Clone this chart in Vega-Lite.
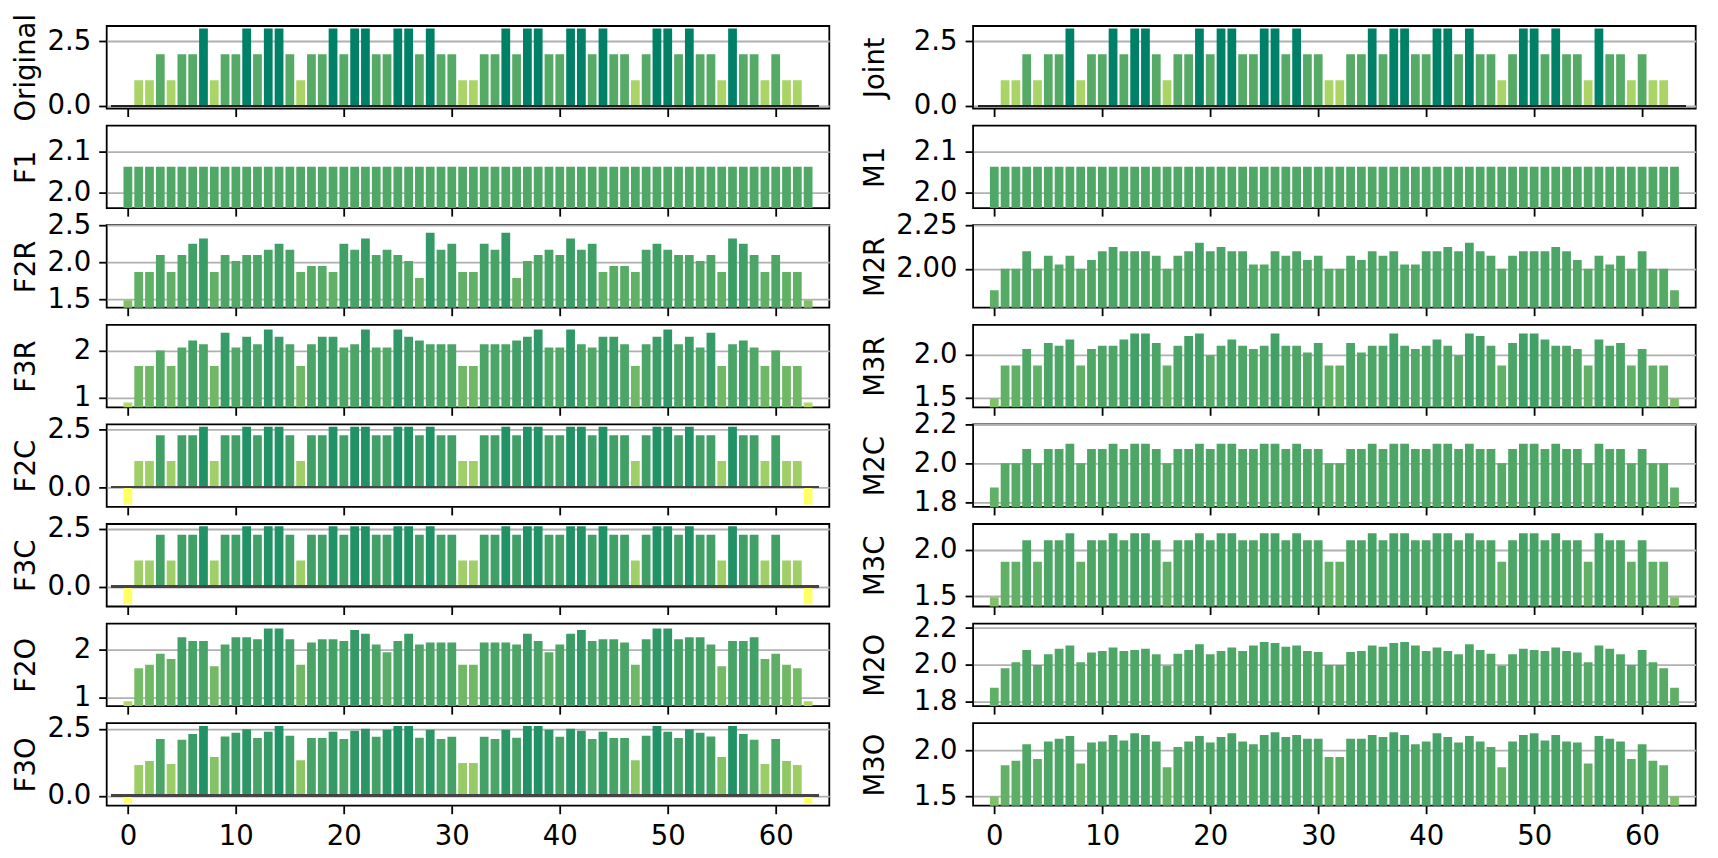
{
"$schema": "https://vega.github.io/schema/vega-lite/v6.json",
"autosize": {"type": "none"},
"padding": {"left": 106.7, "top": 26, "right": 1611.3, "bottom": 832},
"background": "white",
"data": {"values": [
{"i":0,"Original":0,"Joint":0,"F1":2.063,"M1":2.063,"F2R":1.49,"M2R":1.877,"F3R":0.9,"M3R":1.49,"F2C":-0.76,"M2C":1.876,"F3C":-0.76,"M3C":1.49,"F2O":0.93,"M2O":1.877,"F3O":-0.27,"M3O":1.5},
{"i":1,"Original":1,"Joint":1,"F1":2.063,"M1":2.063,"F2R":1.87,"M2R":2.0,"F3R":1.67,"M3R":1.87,"F2C":1.13,"M2C":2.0,"F3C":1.13,"M3C":1.87,"F2O":1.61,"M2O":1.982,"F3O":1.15,"M3O":1.84},
{"i":2,"Original":1,"Joint":1,"F1":2.063,"M1":2.063,"F2R":1.87,"M2R":2.0,"F3R":1.67,"M3R":1.87,"F2C":1.13,"M2C":2.0,"F3C":1.13,"M3C":1.87,"F2O":1.68,"M2O":2.014,"F3O":1.3,"M3O":1.89},
{"i":3,"Original":2,"Joint":2,"F1":2.063,"M1":2.063,"F2R":2.1,"M2R":2.1,"F3R":2.0,"M3R":2.06,"F2C":2.24,"M2C":2.074,"F3C":2.24,"M3C":2.1,"F2O":1.91,"M2O":2.081,"F3O":2.12,"M3O":2.07},
{"i":4,"Original":1,"Joint":1,"F1":2.063,"M1":2.063,"F2R":1.87,"M2R":2.0,"F3R":1.67,"M3R":1.87,"F2C":1.13,"M2C":2.0,"F3C":1.13,"M3C":1.87,"F2O":1.8,"M2O":2.0,"F3O":1.19,"M3O":1.91},
{"i":5,"Original":2,"Joint":2,"F1":2.063,"M1":2.063,"F2R":2.1,"M2R":2.075,"F3R":2.06,"M3R":2.13,"F2C":2.24,"M2C":2.074,"F3C":2.24,"M3C":2.1,"F2O":2.25,"M2O":2.058,"F3O":2.09,"M3O":2.1},
{"i":6,"Original":2,"Joint":2,"F1":2.063,"M1":2.063,"F2R":2.25,"M2R":2.025,"F3R":2.21,"M3R":2.1,"F2C":2.24,"M2C":2.074,"F3C":2.24,"M3C":2.1,"F2O":2.17,"M2O":2.088,"F3O":2.31,"M3O":2.13},
{"i":7,"Original":3,"Joint":3,"F1":2.063,"M1":2.063,"F2R":2.32,"M2R":2.075,"F3R":2.13,"M3R":2.17,"F2C":2.61,"M2C":2.1,"F3C":2.61,"M3C":2.175,"F2O":2.17,"M2O":2.106,"F3O":2.61,"M3O":2.16},
{"i":8,"Original":1,"Joint":1,"F1":2.063,"M1":2.063,"F2R":1.87,"M2R":2.0,"F3R":1.67,"M3R":1.87,"F2C":1.13,"M2C":2.0,"F3C":1.13,"M3C":1.87,"F2O":1.65,"M2O":2.014,"F3O":1.45,"M3O":1.86},
{"i":9,"Original":2,"Joint":2,"F1":2.063,"M1":2.063,"F2R":2.1,"M2R":2.05,"F3R":2.37,"M3R":2.06,"F2C":2.24,"M2C":2.074,"F3C":2.24,"M3C":2.1,"F2O":2.1,"M2O":2.068,"F3O":2.21,"M3O":2.09},
{"i":10,"Original":2,"Joint":2,"F1":2.063,"M1":2.063,"F2R":2.02,"M2R":2.1,"F3R":2.06,"M3R":2.1,"F2C":2.24,"M2C":2.074,"F3C":2.24,"M3C":2.1,"F2O":2.25,"M2O":2.076,"F3O":2.35,"M3O":2.1},
{"i":11,"Original":3,"Joint":3,"F1":2.063,"M1":2.063,"F2R":2.1,"M2R":2.125,"F3R":2.29,"M3R":2.1,"F2C":2.61,"M2C":2.1,"F3C":2.61,"M3C":2.175,"F2O":2.25,"M2O":2.094,"F3O":2.48,"M3O":2.17},
{"i":12,"Original":2,"Joint":2,"F1":2.063,"M1":2.063,"F2R":2.1,"M2R":2.1,"F3R":2.13,"M3R":2.17,"F2C":2.24,"M2C":2.074,"F3C":2.24,"M3C":2.1,"F2O":2.21,"M2O":2.076,"F3O":2.16,"M3O":2.11},
{"i":13,"Original":3,"Joint":3,"F1":2.063,"M1":2.063,"F2R":2.17,"M2R":2.1,"F3R":2.44,"M3R":2.24,"F2C":2.61,"M2C":2.1,"F3C":2.61,"M3C":2.175,"F2O":2.43,"M2O":2.081,"F3O":2.39,"M3O":2.19},
{"i":14,"Original":3,"Joint":3,"F1":2.063,"M1":2.063,"F2R":2.25,"M2R":2.1,"F3R":2.29,"M3R":2.24,"F2C":2.61,"M2C":2.1,"F3C":2.61,"M3C":2.175,"F2O":2.43,"M2O":2.088,"F3O":2.61,"M3O":2.17},
{"i":15,"Original":2,"Joint":2,"F1":2.063,"M1":2.063,"F2R":2.17,"M2R":2.075,"F3R":2.13,"M3R":2.13,"F2C":2.24,"M2C":2.074,"F3C":2.24,"M3C":2.1,"F2O":2.21,"M2O":2.058,"F3O":2.24,"M3O":2.1},
{"i":16,"Original":1,"Joint":1,"F1":2.063,"M1":2.063,"F2R":1.87,"M2R":2.0,"F3R":1.67,"M3R":1.87,"F2C":1.13,"M2C":2.0,"F3C":1.13,"M3C":1.87,"F2O":1.68,"M2O":1.995,"F3O":1.33,"M3O":1.82},
{"i":17,"Original":2,"Joint":2,"F1":2.063,"M1":2.063,"F2R":1.95,"M2R":2.075,"F3R":2.13,"M3R":2.1,"F2C":2.24,"M2C":2.074,"F3C":2.24,"M3C":2.1,"F2O":2.14,"M2O":2.061,"F3O":2.16,"M3O":2.04},
{"i":18,"Original":2,"Joint":2,"F1":2.063,"M1":2.063,"F2R":1.95,"M2R":2.1,"F3R":2.29,"M3R":2.21,"F2C":2.24,"M2C":2.074,"F3C":2.24,"M3C":2.1,"F2O":2.21,"M2O":2.081,"F3O":2.16,"M3O":2.1},
{"i":19,"Original":3,"Joint":3,"F1":2.063,"M1":2.063,"F2R":1.87,"M2R":2.15,"F3R":2.29,"M3R":2.24,"F2C":2.61,"M2C":2.1,"F3C":2.61,"M3C":2.175,"F2O":2.21,"M2O":2.112,"F3O":2.39,"M3O":2.16},
{"i":20,"Original":2,"Joint":2,"F1":2.063,"M1":2.063,"F2R":2.25,"M2R":2.1,"F3R":2.06,"M3R":1.99,"F2C":2.24,"M2C":2.074,"F3C":2.24,"M3C":2.1,"F2O":2.17,"M2O":2.058,"F3O":2.12,"M3O":2.09},
{"i":21,"Original":3,"Joint":3,"F1":2.063,"M1":2.063,"F2R":2.17,"M2R":2.125,"F3R":2.13,"M3R":2.1,"F2C":2.61,"M2C":2.1,"F3C":2.61,"M3C":2.175,"F2O":2.4,"M2O":2.076,"F3O":2.43,"M3O":2.15},
{"i":22,"Original":3,"Joint":3,"F1":2.063,"M1":2.063,"F2R":2.32,"M2R":2.1,"F3R":2.44,"M3R":2.17,"F2C":2.61,"M2C":2.1,"F3C":2.61,"M3C":2.175,"F2O":2.32,"M2O":2.094,"F3O":2.5,"M3O":2.19},
{"i":23,"Original":2,"Joint":2,"F1":2.063,"M1":2.063,"F2R":2.1,"M2R":2.1,"F3R":2.06,"M3R":2.1,"F2C":2.24,"M2C":2.074,"F3C":2.24,"M3C":2.1,"F2O":2.1,"M2O":2.076,"F3O":2.2,"M3O":2.1},
{"i":24,"Original":2,"Joint":2,"F1":2.063,"M1":2.063,"F2R":2.17,"M2R":2.025,"F3R":2.06,"M3R":2.06,"F2C":2.24,"M2C":2.074,"F3C":2.24,"M3C":2.1,"F2O":1.94,"M2O":2.106,"F3O":2.47,"M3O":2.07},
{"i":25,"Original":3,"Joint":3,"F1":2.063,"M1":2.063,"F2R":2.1,"M2R":2.025,"F3R":2.44,"M3R":2.1,"F2C":2.61,"M2C":2.1,"F3C":2.61,"M3C":2.175,"F2O":2.17,"M2O":2.124,"F3O":2.61,"M3O":2.17},
{"i":26,"Original":3,"Joint":3,"F1":2.063,"M1":2.063,"F2R":2.02,"M2R":2.1,"F3R":2.29,"M3R":2.24,"F2C":2.61,"M2C":2.1,"F3C":2.61,"M3C":2.175,"F2O":2.32,"M2O":2.119,"F3O":2.61,"M3O":2.2},
{"i":27,"Original":2,"Joint":2,"F1":2.063,"M1":2.063,"F2R":1.79,"M2R":2.075,"F3R":2.21,"M3R":2.1,"F2C":2.24,"M2C":2.074,"F3C":2.24,"M3C":2.1,"F2O":2.1,"M2O":2.099,"F3O":2.17,"M3O":2.15},
{"i":28,"Original":3,"Joint":3,"F1":2.063,"M1":2.063,"F2R":2.4,"M2R":2.1,"F3R":2.13,"M3R":2.1,"F2C":2.61,"M2C":2.1,"F3C":2.61,"M3C":2.175,"F2O":2.14,"M2O":2.106,"F3O":2.47,"M3O":2.17},
{"i":29,"Original":2,"Joint":2,"F1":2.063,"M1":2.063,"F2R":2.17,"M2R":2.05,"F3R":2.13,"M3R":2.02,"F2C":2.24,"M2C":2.074,"F3C":2.24,"M3C":2.1,"F2O":2.14,"M2O":2.076,"F3O":2.12,"M3O":2.13},
{"i":30,"Original":2,"Joint":2,"F1":2.063,"M1":2.063,"F2R":2.25,"M2R":2.075,"F3R":2.13,"M3R":2.13,"F2C":2.24,"M2C":2.074,"F3C":2.24,"M3C":2.1,"F2O":2.14,"M2O":2.07,"F3O":2.2,"M3O":2.13},
{"i":31,"Original":1,"Joint":1,"F1":2.063,"M1":2.063,"F2R":1.87,"M2R":2.0,"F3R":1.67,"M3R":1.87,"F2C":1.13,"M2C":2.0,"F3C":1.13,"M3C":1.87,"F2O":1.68,"M2O":2.0,"F3O":1.22,"M3O":1.93},
{"i":32,"Original":1,"Joint":1,"F1":2.063,"M1":2.063,"F2R":1.87,"M2R":2.0,"F3R":1.67,"M3R":1.87,"F2C":1.13,"M2C":2.0,"F3C":1.13,"M3C":1.87,"F2O":1.68,"M2O":2.0,"F3O":1.22,"M3O":1.93},
{"i":33,"Original":2,"Joint":2,"F1":2.063,"M1":2.063,"F2R":2.25,"M2R":2.075,"F3R":2.13,"M3R":2.13,"F2C":2.24,"M2C":2.074,"F3C":2.24,"M3C":2.1,"F2O":2.14,"M2O":2.07,"F3O":2.2,"M3O":2.13},
{"i":34,"Original":2,"Joint":2,"F1":2.063,"M1":2.063,"F2R":2.17,"M2R":2.05,"F3R":2.13,"M3R":2.02,"F2C":2.24,"M2C":2.074,"F3C":2.24,"M3C":2.1,"F2O":2.14,"M2O":2.076,"F3O":2.12,"M3O":2.13},
{"i":35,"Original":3,"Joint":3,"F1":2.063,"M1":2.063,"F2R":2.4,"M2R":2.1,"F3R":2.13,"M3R":2.1,"F2C":2.61,"M2C":2.1,"F3C":2.61,"M3C":2.175,"F2O":2.14,"M2O":2.106,"F3O":2.47,"M3O":2.17},
{"i":36,"Original":2,"Joint":2,"F1":2.063,"M1":2.063,"F2R":1.79,"M2R":2.075,"F3R":2.21,"M3R":2.1,"F2C":2.24,"M2C":2.074,"F3C":2.24,"M3C":2.1,"F2O":2.1,"M2O":2.099,"F3O":2.17,"M3O":2.15},
{"i":37,"Original":3,"Joint":3,"F1":2.063,"M1":2.063,"F2R":2.02,"M2R":2.1,"F3R":2.29,"M3R":2.24,"F2C":2.61,"M2C":2.1,"F3C":2.61,"M3C":2.175,"F2O":2.32,"M2O":2.119,"F3O":2.61,"M3O":2.2},
{"i":38,"Original":3,"Joint":3,"F1":2.063,"M1":2.063,"F2R":2.1,"M2R":2.025,"F3R":2.44,"M3R":2.1,"F2C":2.61,"M2C":2.1,"F3C":2.61,"M3C":2.175,"F2O":2.17,"M2O":2.124,"F3O":2.61,"M3O":2.17},
{"i":39,"Original":2,"Joint":2,"F1":2.063,"M1":2.063,"F2R":2.17,"M2R":2.025,"F3R":2.06,"M3R":2.06,"F2C":2.24,"M2C":2.074,"F3C":2.24,"M3C":2.1,"F2O":1.94,"M2O":2.106,"F3O":2.47,"M3O":2.07},
{"i":40,"Original":2,"Joint":2,"F1":2.063,"M1":2.063,"F2R":2.1,"M2R":2.1,"F3R":2.06,"M3R":2.1,"F2C":2.24,"M2C":2.074,"F3C":2.24,"M3C":2.1,"F2O":2.1,"M2O":2.076,"F3O":2.2,"M3O":2.1},
{"i":41,"Original":3,"Joint":3,"F1":2.063,"M1":2.063,"F2R":2.32,"M2R":2.1,"F3R":2.44,"M3R":2.17,"F2C":2.61,"M2C":2.1,"F3C":2.61,"M3C":2.175,"F2O":2.32,"M2O":2.094,"F3O":2.5,"M3O":2.19},
{"i":42,"Original":3,"Joint":3,"F1":2.063,"M1":2.063,"F2R":2.17,"M2R":2.125,"F3R":2.13,"M3R":2.1,"F2C":2.61,"M2C":2.1,"F3C":2.61,"M3C":2.175,"F2O":2.4,"M2O":2.076,"F3O":2.43,"M3O":2.15},
{"i":43,"Original":2,"Joint":2,"F1":2.063,"M1":2.063,"F2R":2.25,"M2R":2.1,"F3R":2.06,"M3R":1.99,"F2C":2.24,"M2C":2.074,"F3C":2.24,"M3C":2.1,"F2O":2.17,"M2O":2.058,"F3O":2.12,"M3O":2.09},
{"i":44,"Original":3,"Joint":3,"F1":2.063,"M1":2.063,"F2R":1.87,"M2R":2.15,"F3R":2.29,"M3R":2.24,"F2C":2.61,"M2C":2.1,"F3C":2.61,"M3C":2.175,"F2O":2.21,"M2O":2.112,"F3O":2.39,"M3O":2.16},
{"i":45,"Original":2,"Joint":2,"F1":2.063,"M1":2.063,"F2R":1.95,"M2R":2.1,"F3R":2.29,"M3R":2.21,"F2C":2.24,"M2C":2.074,"F3C":2.24,"M3C":2.1,"F2O":2.21,"M2O":2.081,"F3O":2.16,"M3O":2.1},
{"i":46,"Original":2,"Joint":2,"F1":2.063,"M1":2.063,"F2R":1.95,"M2R":2.075,"F3R":2.13,"M3R":2.1,"F2C":2.24,"M2C":2.074,"F3C":2.24,"M3C":2.1,"F2O":2.14,"M2O":2.061,"F3O":2.16,"M3O":2.04},
{"i":47,"Original":1,"Joint":1,"F1":2.063,"M1":2.063,"F2R":1.87,"M2R":2.0,"F3R":1.67,"M3R":1.87,"F2C":1.13,"M2C":2.0,"F3C":1.13,"M3C":1.87,"F2O":1.68,"M2O":1.995,"F3O":1.33,"M3O":1.82},
{"i":48,"Original":2,"Joint":2,"F1":2.063,"M1":2.063,"F2R":2.17,"M2R":2.075,"F3R":2.13,"M3R":2.13,"F2C":2.24,"M2C":2.074,"F3C":2.24,"M3C":2.1,"F2O":2.21,"M2O":2.058,"F3O":2.24,"M3O":2.1},
{"i":49,"Original":3,"Joint":3,"F1":2.063,"M1":2.063,"F2R":2.25,"M2R":2.1,"F3R":2.29,"M3R":2.24,"F2C":2.61,"M2C":2.1,"F3C":2.61,"M3C":2.175,"F2O":2.43,"M2O":2.088,"F3O":2.61,"M3O":2.17},
{"i":50,"Original":3,"Joint":3,"F1":2.063,"M1":2.063,"F2R":2.17,"M2R":2.1,"F3R":2.44,"M3R":2.24,"F2C":2.61,"M2C":2.1,"F3C":2.61,"M3C":2.175,"F2O":2.43,"M2O":2.081,"F3O":2.39,"M3O":2.19},
{"i":51,"Original":2,"Joint":2,"F1":2.063,"M1":2.063,"F2R":2.1,"M2R":2.1,"F3R":2.13,"M3R":2.17,"F2C":2.24,"M2C":2.074,"F3C":2.24,"M3C":2.1,"F2O":2.21,"M2O":2.076,"F3O":2.16,"M3O":2.11},
{"i":52,"Original":3,"Joint":3,"F1":2.063,"M1":2.063,"F2R":2.1,"M2R":2.125,"F3R":2.29,"M3R":2.1,"F2C":2.61,"M2C":2.1,"F3C":2.61,"M3C":2.175,"F2O":2.25,"M2O":2.094,"F3O":2.48,"M3O":2.17},
{"i":53,"Original":2,"Joint":2,"F1":2.063,"M1":2.063,"F2R":2.02,"M2R":2.1,"F3R":2.06,"M3R":2.1,"F2C":2.24,"M2C":2.074,"F3C":2.24,"M3C":2.1,"F2O":2.25,"M2O":2.076,"F3O":2.35,"M3O":2.1},
{"i":54,"Original":2,"Joint":2,"F1":2.063,"M1":2.063,"F2R":2.1,"M2R":2.05,"F3R":2.37,"M3R":2.06,"F2C":2.24,"M2C":2.074,"F3C":2.24,"M3C":2.1,"F2O":2.1,"M2O":2.068,"F3O":2.21,"M3O":2.09},
{"i":55,"Original":1,"Joint":1,"F1":2.063,"M1":2.063,"F2R":1.87,"M2R":2.0,"F3R":1.67,"M3R":1.87,"F2C":1.13,"M2C":2.0,"F3C":1.13,"M3C":1.87,"F2O":1.65,"M2O":2.014,"F3O":1.45,"M3O":1.86},
{"i":56,"Original":3,"Joint":3,"F1":2.063,"M1":2.063,"F2R":2.32,"M2R":2.075,"F3R":2.13,"M3R":2.17,"F2C":2.61,"M2C":2.1,"F3C":2.61,"M3C":2.175,"F2O":2.17,"M2O":2.106,"F3O":2.61,"M3O":2.16},
{"i":57,"Original":2,"Joint":2,"F1":2.063,"M1":2.063,"F2R":2.25,"M2R":2.025,"F3R":2.21,"M3R":2.1,"F2C":2.24,"M2C":2.074,"F3C":2.24,"M3C":2.1,"F2O":2.17,"M2O":2.088,"F3O":2.31,"M3O":2.13},
{"i":58,"Original":2,"Joint":2,"F1":2.063,"M1":2.063,"F2R":2.1,"M2R":2.075,"F3R":2.06,"M3R":2.13,"F2C":2.24,"M2C":2.074,"F3C":2.24,"M3C":2.1,"F2O":2.25,"M2O":2.058,"F3O":2.09,"M3O":2.1},
{"i":59,"Original":1,"Joint":1,"F1":2.063,"M1":2.063,"F2R":1.87,"M2R":2.0,"F3R":1.67,"M3R":1.87,"F2C":1.13,"M2C":2.0,"F3C":1.13,"M3C":1.87,"F2O":1.8,"M2O":2.0,"F3O":1.19,"M3O":1.91},
{"i":60,"Original":2,"Joint":2,"F1":2.063,"M1":2.063,"F2R":2.1,"M2R":2.1,"F3R":2.0,"M3R":2.06,"F2C":2.24,"M2C":2.074,"F3C":2.24,"M3C":2.1,"F2O":1.91,"M2O":2.081,"F3O":2.12,"M3O":2.07},
{"i":61,"Original":1,"Joint":1,"F1":2.063,"M1":2.063,"F2R":1.87,"M2R":2.0,"F3R":1.67,"M3R":1.87,"F2C":1.13,"M2C":2.0,"F3C":1.13,"M3C":1.87,"F2O":1.68,"M2O":2.014,"F3O":1.3,"M3O":1.89},
{"i":62,"Original":1,"Joint":1,"F1":2.063,"M1":2.063,"F2R":1.87,"M2R":2.0,"F3R":1.67,"M3R":1.87,"F2C":1.13,"M2C":2.0,"F3C":1.13,"M3C":1.87,"F2O":1.61,"M2O":1.982,"F3O":1.15,"M3O":1.84},
{"i":63,"Original":0,"Joint":0,"F1":2.063,"M1":2.063,"F2R":1.49,"M2R":1.877,"F3R":0.9,"M3R":1.49,"F2C":-0.76,"M2C":1.876,"F3C":-0.76,"M3C":1.49,"F2O":0.93,"M2O":1.877,"F3O":-0.27,"M3O":1.5}
]},
"columns": 2,
"spacing": {"row": 16.6, "column": 143.4},
"bounds": "flush",
"concat": [
{"width": 722.6, "height": 82.5, "layer": [
 {"mark": {"type": "bar", "width": 8.76, "clip": true}, "encoding": {
  "x": {"field": "i", "type": "quantitative", "scale": {"domain": [-1.5, 64.5], "nice": false, "zero": false}, "axis": {"values": [0,10,20,30,40,50,60], "labels": false, "title": null}},
  "y": {"field": "Original", "type": "quantitative", "scale": {"domain": [-0.1, 3.1], "nice": false, "zero": false}, "axis": {"values": [0, 2.5], "format": ".1f", "title": "Original", "titleX": -80}},
  "y2": {"datum": 0},
  "color": {"field": "Original", "type": "quantitative", "scale": {"domain": [0, 3], "range": ["#ffff66", "#008066"], "interpolate": "rgb", "clamp": true}, "legend": null}}},
 {"mark": {"type": "rule", "color": "#222222", "strokeWidth": 2, "clip": true}, "encoding": {"y": {"datum": 0}, "x": {"datum": -1.5}, "x2": {"datum": 64}}}
]},
{"width": 722.6, "height": 82.5, "layer": [
 {"mark": {"type": "bar", "width": 8.76, "clip": true}, "encoding": {
  "x": {"field": "i", "type": "quantitative", "scale": {"domain": [-1.5, 64.5], "nice": false, "zero": false}, "axis": {"values": [0,10,20,30,40,50,60], "labels": false, "title": null}},
  "y": {"field": "Joint", "type": "quantitative", "scale": {"domain": [-0.1, 3.1], "nice": false, "zero": false}, "axis": {"values": [0, 2.5], "format": ".1f", "title": "Joint", "titleX": -97.7}},
  "y2": {"datum": 0},
  "color": {"field": "Joint", "type": "quantitative", "scale": {"domain": [0, 3], "range": ["#ffff66", "#008066"], "interpolate": "rgb", "clamp": true}, "legend": null}}},
 {"mark": {"type": "rule", "color": "#222222", "strokeWidth": 2, "clip": true}, "encoding": {"y": {"datum": 0}, "x": {"datum": -1.5}, "x2": {"datum": 64}}}
]},
{"width": 722.6, "height": 82.5, "layer": [
 {"mark": {"type": "bar", "width": 8.76, "clip": true}, "encoding": {
  "x": {"field": "i", "type": "quantitative", "scale": {"domain": [-1.5, 64.5], "nice": false, "zero": false}, "axis": {"values": [0,10,20,30,40,50,60], "labels": false, "title": null}},
  "y": {"field": "F1", "type": "quantitative", "scale": {"domain": [1.963, 2.163], "nice": false, "zero": false}, "axis": {"values": [2.0, 2.1], "format": ".1f", "title": "F1", "titleX": -80}},
  "y2": {"datum": 0},
  "color": {"field": "F1", "type": "quantitative", "scale": {"domain": [0, 3], "range": ["#ffff66", "#008066"], "interpolate": "rgb", "clamp": true}, "legend": null}}}
]},
{"width": 722.6, "height": 82.5, "layer": [
 {"mark": {"type": "bar", "width": 8.76, "clip": true}, "encoding": {
  "x": {"field": "i", "type": "quantitative", "scale": {"domain": [-1.5, 64.5], "nice": false, "zero": false}, "axis": {"values": [0,10,20,30,40,50,60], "labels": false, "title": null}},
  "y": {"field": "M1", "type": "quantitative", "scale": {"domain": [1.963, 2.163], "nice": false, "zero": false}, "axis": {"values": [2.0, 2.1], "format": ".1f", "title": "M1", "titleX": -97.7}},
  "y2": {"datum": 0},
  "color": {"field": "M1", "type": "quantitative", "scale": {"domain": [0, 3], "range": ["#ffff66", "#008066"], "interpolate": "rgb", "clamp": true}, "legend": null}}}
]},
{"width": 722.6, "height": 82.5, "layer": [
 {"mark": {"type": "bar", "width": 8.76, "clip": true}, "encoding": {
  "x": {"field": "i", "type": "quantitative", "scale": {"domain": [-1.5, 64.5], "nice": false, "zero": false}, "axis": {"values": [0,10,20,30,40,50,60], "labels": false, "title": null}},
  "y": {"field": "F2R", "type": "quantitative", "scale": {"domain": [1.39, 2.5], "nice": false, "zero": false}, "axis": {"values": [1.5, 2.0, 2.5], "format": ".1f", "title": "F2R", "titleX": -80}},
  "y2": {"datum": 0},
  "color": {"field": "F2R", "type": "quantitative", "scale": {"domain": [0, 3], "range": ["#ffff66", "#008066"], "interpolate": "rgb", "clamp": true}, "legend": null}}}
]},
{"width": 722.6, "height": 82.5, "layer": [
 {"mark": {"type": "bar", "width": 8.76, "clip": true}, "encoding": {
  "x": {"field": "i", "type": "quantitative", "scale": {"domain": [-1.5, 64.5], "nice": false, "zero": false}, "axis": {"values": [0,10,20,30,40,50,60], "labels": false, "title": null}},
  "y": {"field": "M2R", "type": "quantitative", "scale": {"domain": [1.777, 2.25], "nice": false, "zero": false}, "axis": {"values": [2.0, 2.25], "format": ".2f", "title": "M2R", "titleX": -97.7}},
  "y2": {"datum": 0},
  "color": {"field": "M2R", "type": "quantitative", "scale": {"domain": [0, 3], "range": ["#ffff66", "#008066"], "interpolate": "rgb", "clamp": true}, "legend": null}}}
]},
{"width": 722.6, "height": 82.5, "layer": [
 {"mark": {"type": "bar", "width": 8.76, "clip": true}, "encoding": {
  "x": {"field": "i", "type": "quantitative", "scale": {"domain": [-1.5, 64.5], "nice": false, "zero": false}, "axis": {"values": [0,10,20,30,40,50,60], "labels": false, "title": null}},
  "y": {"field": "F3R", "type": "quantitative", "scale": {"domain": [0.8, 2.54], "nice": false, "zero": false}, "axis": {"values": [1, 2], "format": "d", "title": "F3R", "titleX": -80}},
  "y2": {"datum": 0},
  "color": {"field": "F3R", "type": "quantitative", "scale": {"domain": [0, 3], "range": ["#ffff66", "#008066"], "interpolate": "rgb", "clamp": true}, "legend": null}}}
]},
{"width": 722.6, "height": 82.5, "layer": [
 {"mark": {"type": "bar", "width": 8.76, "clip": true}, "encoding": {
  "x": {"field": "i", "type": "quantitative", "scale": {"domain": [-1.5, 64.5], "nice": false, "zero": false}, "axis": {"values": [0,10,20,30,40,50,60], "labels": false, "title": null}},
  "y": {"field": "M3R", "type": "quantitative", "scale": {"domain": [1.39, 2.34], "nice": false, "zero": false}, "axis": {"values": [1.5, 2.0], "format": ".1f", "title": "M3R", "titleX": -97.7}},
  "y2": {"datum": 0},
  "color": {"field": "M3R", "type": "quantitative", "scale": {"domain": [0, 3], "range": ["#ffff66", "#008066"], "interpolate": "rgb", "clamp": true}, "legend": null}}}
]},
{"width": 722.6, "height": 82.5, "layer": [
 {"mark": {"type": "bar", "width": 8.76, "clip": true}, "encoding": {
  "x": {"field": "i", "type": "quantitative", "scale": {"domain": [-1.5, 64.5], "nice": false, "zero": false}, "axis": {"values": [0,10,20,30,40,50,60], "labels": false, "title": null}},
  "y": {"field": "F2C", "type": "quantitative", "scale": {"domain": [-0.86, 2.71], "nice": false, "zero": false}, "axis": {"values": [0, 2.5], "format": ".1f", "title": "F2C", "titleX": -80}},
  "y2": {"datum": 0},
  "color": {"field": "F2C", "type": "quantitative", "scale": {"domain": [0, 3], "range": ["#ffff66", "#008066"], "interpolate": "rgb", "clamp": true}, "legend": null}}},
 {"mark": {"type": "rule", "color": "#444444", "strokeWidth": 2, "clip": true}, "encoding": {"y": {"datum": 0}, "x": {"datum": -1.5}, "x2": {"datum": 64}}}
]},
{"width": 722.6, "height": 82.5, "layer": [
 {"mark": {"type": "bar", "width": 8.76, "clip": true}, "encoding": {
  "x": {"field": "i", "type": "quantitative", "scale": {"domain": [-1.5, 64.5], "nice": false, "zero": false}, "axis": {"values": [0,10,20,30,40,50,60], "labels": false, "title": null}},
  "y": {"field": "M2C", "type": "quantitative", "scale": {"domain": [1.776, 2.2], "nice": false, "zero": false}, "axis": {"values": [1.8, 2.0, 2.2], "format": ".1f", "title": "M2C", "titleX": -97.7}},
  "y2": {"datum": 0},
  "color": {"field": "M2C", "type": "quantitative", "scale": {"domain": [0, 3], "range": ["#ffff66", "#008066"], "interpolate": "rgb", "clamp": true}, "legend": null}}}
]},
{"width": 722.6, "height": 82.5, "layer": [
 {"mark": {"type": "bar", "width": 8.76, "clip": true}, "encoding": {
  "x": {"field": "i", "type": "quantitative", "scale": {"domain": [-1.5, 64.5], "nice": false, "zero": false}, "axis": {"values": [0,10,20,30,40,50,60], "labels": false, "title": null}},
  "y": {"field": "F3C", "type": "quantitative", "scale": {"domain": [-0.86, 2.71], "nice": false, "zero": false}, "axis": {"values": [0, 2.5], "format": ".1f", "title": "F3C", "titleX": -80}},
  "y2": {"datum": 0},
  "color": {"field": "F3C", "type": "quantitative", "scale": {"domain": [0, 3], "range": ["#ffff66", "#008066"], "interpolate": "rgb", "clamp": true}, "legend": null}}},
 {"mark": {"type": "rule", "color": "#444444", "strokeWidth": 2, "clip": true}, "encoding": {"y": {"datum": 0}, "x": {"datum": -1.5}, "x2": {"datum": 64}}}
]},
{"width": 722.6, "height": 82.5, "layer": [
 {"mark": {"type": "bar", "width": 8.76, "clip": true}, "encoding": {
  "x": {"field": "i", "type": "quantitative", "scale": {"domain": [-1.5, 64.5], "nice": false, "zero": false}, "axis": {"values": [0,10,20,30,40,50,60], "labels": false, "title": null}},
  "y": {"field": "M3C", "type": "quantitative", "scale": {"domain": [1.39, 2.275], "nice": false, "zero": false}, "axis": {"values": [1.5, 2.0], "format": ".1f", "title": "M3C", "titleX": -97.7}},
  "y2": {"datum": 0},
  "color": {"field": "M3C", "type": "quantitative", "scale": {"domain": [0, 3], "range": ["#ffff66", "#008066"], "interpolate": "rgb", "clamp": true}, "legend": null}}}
]},
{"width": 722.6, "height": 82.5, "layer": [
 {"mark": {"type": "bar", "width": 8.76, "clip": true}, "encoding": {
  "x": {"field": "i", "type": "quantitative", "scale": {"domain": [-1.5, 64.5], "nice": false, "zero": false}, "axis": {"values": [0,10,20,30,40,50,60], "labels": false, "title": null}},
  "y": {"field": "F2O", "type": "quantitative", "scale": {"domain": [0.83, 2.53], "nice": false, "zero": false}, "axis": {"values": [1, 2], "format": "d", "title": "F2O", "titleX": -80}},
  "y2": {"datum": 0},
  "color": {"field": "F2O", "type": "quantitative", "scale": {"domain": [0, 3], "range": ["#ffff66", "#008066"], "interpolate": "rgb", "clamp": true}, "legend": null}}}
]},
{"width": 722.6, "height": 82.5, "layer": [
 {"mark": {"type": "bar", "width": 8.76, "clip": true}, "encoding": {
  "x": {"field": "i", "type": "quantitative", "scale": {"domain": [-1.5, 64.5], "nice": false, "zero": false}, "axis": {"values": [0,10,20,30,40,50,60], "labels": false, "title": null}},
  "y": {"field": "M2O", "type": "quantitative", "scale": {"domain": [1.777, 2.224], "nice": false, "zero": false}, "axis": {"values": [1.8, 2.0, 2.2], "format": ".1f", "title": "M2O", "titleX": -97.7}},
  "y2": {"datum": 0},
  "color": {"field": "M2O", "type": "quantitative", "scale": {"domain": [0, 3], "range": ["#ffff66", "#008066"], "interpolate": "rgb", "clamp": true}, "legend": null}}}
]},
{"width": 722.6, "height": 82.5, "layer": [
 {"mark": {"type": "bar", "width": 8.76, "clip": true}, "encoding": {
  "x": {"field": "i", "type": "quantitative", "scale": {"domain": [-1.5, 64.5], "nice": false, "zero": false}, "axis": {"values": [0,10,20,30,40,50,60], "labels": true, "title": null}},
  "y": {"field": "F3O", "type": "quantitative", "scale": {"domain": [-0.37, 2.71], "nice": false, "zero": false}, "axis": {"values": [0, 2.5], "format": ".1f", "title": "F3O", "titleX": -80}},
  "y2": {"datum": 0},
  "color": {"field": "F3O", "type": "quantitative", "scale": {"domain": [0, 3], "range": ["#ffff66", "#008066"], "interpolate": "rgb", "clamp": true}, "legend": null}}},
 {"mark": {"type": "rule", "color": "#444444", "strokeWidth": 2, "clip": true}, "encoding": {"y": {"datum": 0}, "x": {"datum": -1.5}, "x2": {"datum": 64}}}
]},
{"width": 722.6, "height": 82.5, "layer": [
 {"mark": {"type": "bar", "width": 8.76, "clip": true}, "encoding": {
  "x": {"field": "i", "type": "quantitative", "scale": {"domain": [-1.5, 64.5], "nice": false, "zero": false}, "axis": {"values": [0,10,20,30,40,50,60], "labels": true, "title": null}},
  "y": {"field": "M3O", "type": "quantitative", "scale": {"domain": [1.4, 2.3], "nice": false, "zero": false}, "axis": {"values": [1.5, 2.0], "format": ".1f", "title": "M3O", "titleX": -97.7}},
  "y2": {"datum": 0},
  "color": {"field": "M3O", "type": "quantitative", "scale": {"domain": [0, 3], "range": ["#ffff66", "#008066"], "interpolate": "rgb", "clamp": true}, "legend": null}}}
]}
],
"config": {
  "view": {"stroke": "black", "strokeWidth": 1.8},
  "font": "DejaVu Sans",
  "axis": {"labelFont": "DejaVu Sans", "titleFont": "DejaVu Sans", "labelFontSize": 27.5, "titleFontSize": 27.5, "labelColor": "black", "titleColor": "black", "titleFontWeight": "normal", "tickColor": "black", "tickWidth": 1.8, "tickSize": 8, "domain": false, "zindex": 1},
  "axisY": {"grid": true, "gridColor": "#b0b0b0", "gridWidth": 1.8, "labelPadding": 8, "titleAngle": 270, "titleAlign": "center", "titleBaseline": "middle", "titleY": 41.25},
  "axisX": {"grid": false, "labelPadding": 9, "labelFlush": false}
}
}
